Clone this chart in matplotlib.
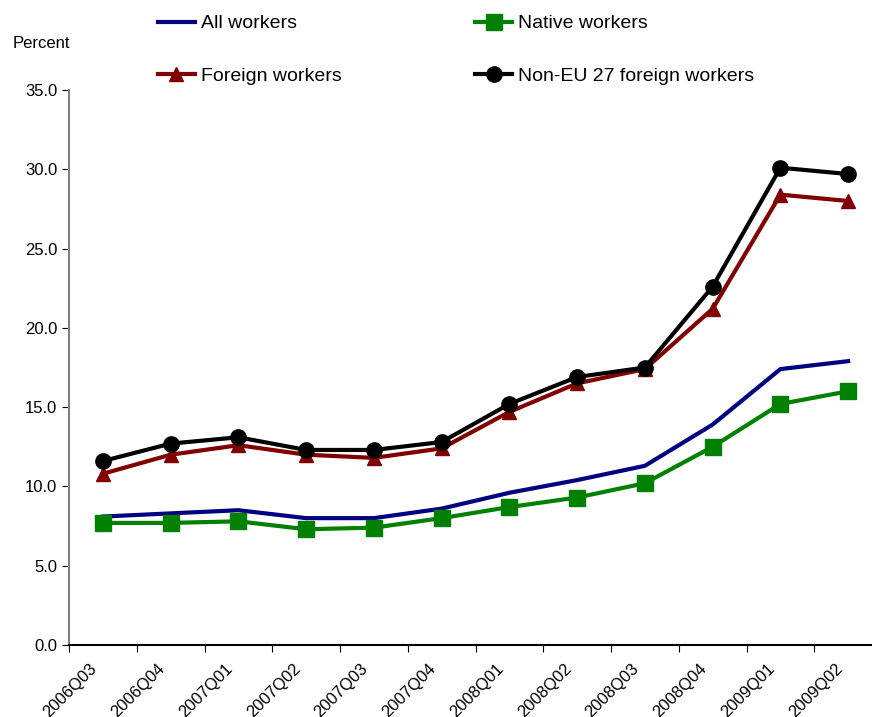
import matplotlib.pyplot as plt
import numpy as np

plt.rcParams['font.family'] = ['Liberation Sans', 'DejaVu Sans']

quarters = ["2006Q03", "2006Q04", "2007Q01", "2007Q02", "2007Q03", "2007Q04",
            "2008Q01", "2008Q02", "2008Q03", "2008Q04", "2009Q01", "2009Q02"]
all_workers = [8.1, 8.3, 8.5, 8.0, 8.0, 8.6, 9.6, 10.4, 11.3, 13.9, 17.4, 17.9]
native_workers = [7.7, 7.7, 7.8, 7.3, 7.4, 8.0, 8.7, 9.3, 10.2, 12.5, 15.2, 16.0]
foreign_workers = [10.8, 12.0, 12.6, 12.0, 11.8, 12.4, 14.7, 16.5, 17.4, 21.2, 28.4, 28.0]
non_eu_workers = [11.6, 12.7, 13.1, 12.3, 12.3, 12.8, 15.2, 16.9, 17.5, 22.6, 30.1, 29.7]

fig = plt.figure(figsize=(8.72, 7.17), dpi=100)
ax = fig.add_axes([69/872, 1-645/717, 813/872, 555/717])

x = np.arange(len(quarters))
l_all, = ax.plot(x, all_workers, color="#000080", lw=3, label="All workers")
l_nat, = ax.plot(x, native_workers, color="#008000", lw=3, marker="s", ms=11, label="Native workers")
l_for, = ax.plot(x, foreign_workers, color="#800000", lw=3, marker="^", ms=10, label="Foreign workers")
l_neu, = ax.plot(x, non_eu_workers, color="black", lw=3, marker="o", ms=11, label="Non-EU 27 foreign workers")

ax.set_xlim(-0.5, len(quarters) - 0.5)
ax.set_ylim(0, 35)
ax.set_yticks(np.arange(0, 35.1, 5))
ax.set_yticklabels([f"{v:.1f}" for v in np.arange(0, 35.1, 5)], fontsize=12)

# boundary ticks between quarters, labels slightly left of each category centre
ax.set_xticks(np.arange(len(quarters) + 1) - 0.5)
ax.set_xticklabels([])
ax.set_xticks(x - 0.12, minor=True)
ax.set_xticklabels(quarters, minor=True, rotation=45, ha="right", va="center",
                   rotation_mode="anchor", fontsize=12)
ax.tick_params(axis="x", which="minor", length=0, pad=15.5)
ax.tick_params(axis="x", which="major", length=5, direction="out")
ax.tick_params(axis="y", length=5, direction="out", pad=3.5)

ax.spines["top"].set_visible(False)
ax.spines["right"].set_visible(False)
ax.spines["left"].set_color("#808080")
ax.spines["left"].set_linewidth(1.5)
ax.spines["bottom"].set_linewidth(1.5)

fig.text(13/872, 1-43/717, "Percent", fontsize=12, va="center", ha="left")

fig.legend(handles=[l_all, l_for, l_nat, l_neu], loc="upper left",
           bbox_to_anchor=(150/872, 1-7/717), ncol=2, frameon=False,
           fontsize=14, labelspacing=1.8, columnspacing=6.9,
           handlelength=1.9, handletextpad=0.3, borderaxespad=0)

fig.savefig("out.png", dpi=100)
